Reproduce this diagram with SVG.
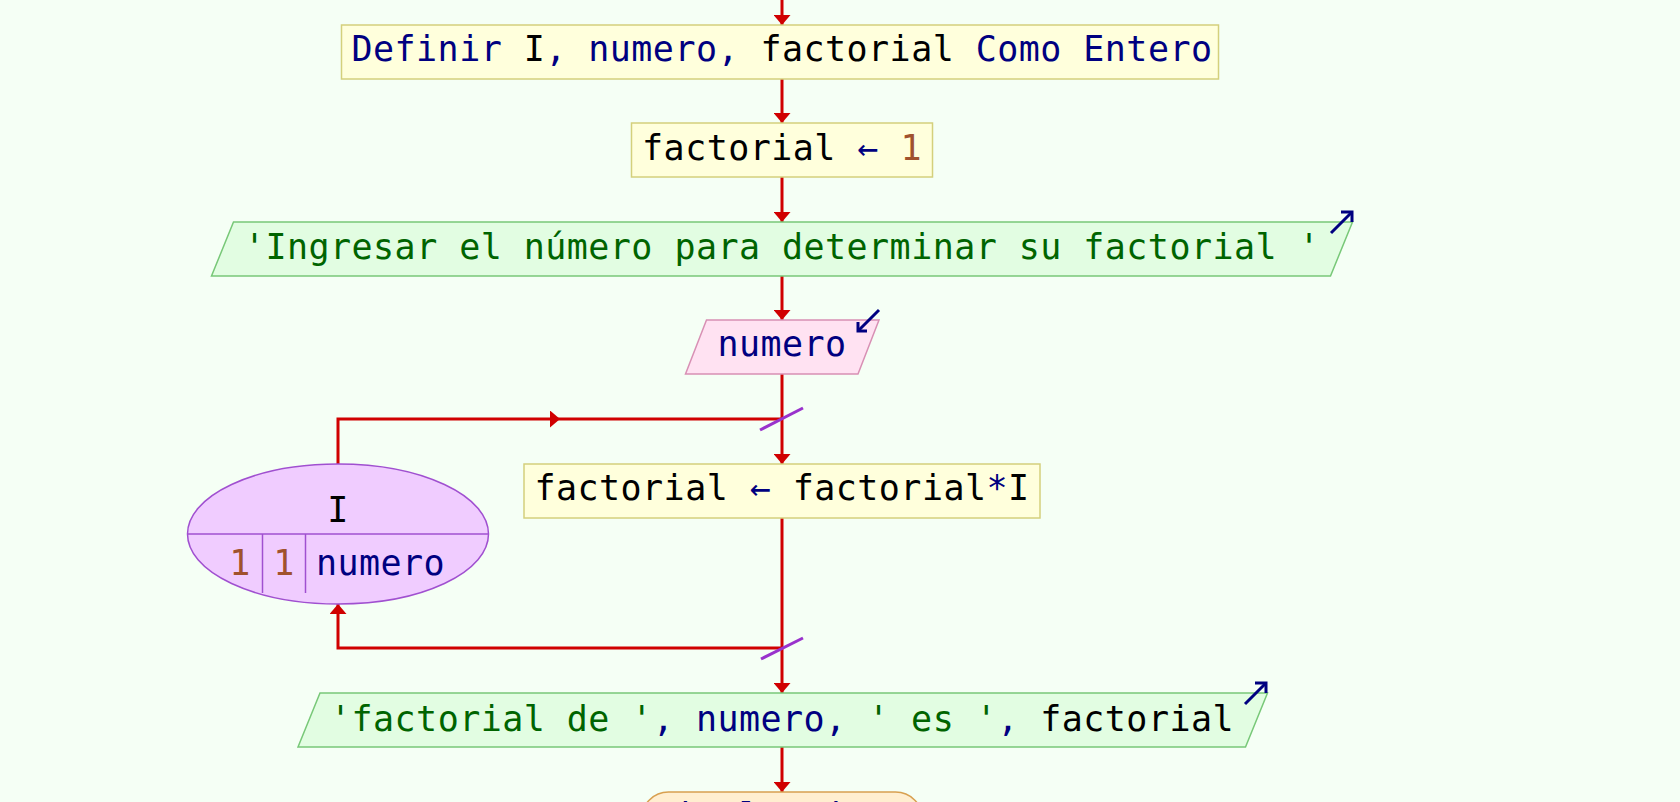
<svg xmlns="http://www.w3.org/2000/svg" width="1680" height="802" viewBox="0 0 1680 802">
<style>
text{font-family:"DejaVu Sans Mono","Liberation Mono",monospace;font-size:35px;letter-spacing:0.45px;fill:#000}
.kw{fill:#000080}
.str{fill:#006400}
.num{fill:#a0522d}
.proc{fill:#ffffdc;stroke:#d4d07c;stroke-width:1.5}
.out{fill:#e2fde2;stroke:#78c878;stroke-width:1.5}
.inp{fill:#ffe2f2;stroke:#d890b4;stroke-width:1.5}
.loop{fill:#f0ccff;stroke:#a050d0;stroke-width:1.5}
.term{fill:#ffeed0;stroke:#d8a050;stroke-width:1.5}
.edge{fill:none;stroke:#d00000;stroke-width:3}
.slash{stroke:#9932cc;stroke-width:3}
.icon{fill:none;stroke:#000080;stroke-width:3}
</style>
<defs>
<marker id="arr" viewBox="0 0 10 17" refX="10" refY="8.5" markerWidth="10" markerHeight="17" markerUnits="userSpaceOnUse" orient="auto">
<path d="M0,0 L10,8.5 L0,17 z" fill="#d00000"/>
</marker>
</defs>
<rect width="1680" height="802" fill="#f5fff5"/>
<g id="connectors">
<path class="edge" d="M782,0 V25" marker-end="url(#arr)"/>
<path class="edge" d="M782,79 V123" marker-end="url(#arr)"/>
<path class="edge" d="M782,177 V222" marker-end="url(#arr)"/>
<path class="edge" d="M782,276 V320" marker-end="url(#arr)"/>
<path class="edge" d="M782,374 V464" marker-end="url(#arr)"/>
<path class="edge" d="M338,464 V419 H560" marker-end="url(#arr)"/>
<path class="edge" d="M560,419 H782"/>
<path class="edge" d="M782,518 V693" marker-end="url(#arr)"/>
<path class="edge" d="M782,648 H338 V604" marker-end="url(#arr)"/>
<path class="edge" d="M782,747 V792" marker-end="url(#arr)"/>
<line class="slash" x1="760" y1="430" x2="803" y2="408"/>
<line class="slash" x1="761" y1="659" x2="803" y2="638"/>
</g>
<g id="n_definir">
<rect class="proc" x="341.5" y="25" width="877" height="54"/>
<text x="782" y="61" text-anchor="middle"><tspan class="kw">Definir</tspan> I<tspan class="kw">,</tspan> <tspan class="kw">numero,</tspan> factorial <tspan class="kw">Como Entero</tspan></text>
</g>
<g id="n_asig1">
<rect class="proc" x="631.5" y="123" width="301" height="54"/>
<text x="782" y="160" text-anchor="middle">factorial <tspan class="kw">←</tspan> <tspan class="num">1</tspan></text>
</g>
<g id="n_escribir1">
<polygon class="out" points="233.5,222 1352.5,222 1330.5,276 211.5,276"/>
<text class="str" x="782" y="259" text-anchor="middle">'Ingresar el número para determinar su factorial '</text>
<polyline class="icon" points="1331,233 1352,212"/>
<polyline class="icon" points="1341,212 1352,212 1352,222"/>
</g>
<g id="n_leer">
<polygon class="inp" points="706.5,320 879,320 858,374 685.5,374"/>
<text class="kw" x="782" y="356" text-anchor="middle">numero</text>
<polyline class="icon" points="879,310 858,331"/>
<polyline class="icon" points="858,322 858,331 867,331"/>
</g>
<g id="n_para">
<ellipse class="loop" cx="338" cy="534" rx="150.5" ry="70"/>
<line x1="187.5" y1="534" x2="488.5" y2="534" stroke="#a050d0" stroke-width="1.5"/>
<line x1="262.5" y1="534" x2="262.5" y2="593" stroke="#a050d0" stroke-width="1.5"/>
<line x1="305.5" y1="534" x2="305.5" y2="593" stroke="#a050d0" stroke-width="1.5"/>
<text x="338" y="522" text-anchor="middle">I</text>
<text class="num" x="240" y="575" text-anchor="middle">1</text>
<text class="num" x="284" y="575" text-anchor="middle">1</text>
<text class="kw" x="316" y="575">numero</text>
</g>
<g id="n_asig2">
<rect class="proc" x="524" y="464" width="516" height="54"/>
<text x="782" y="500" text-anchor="middle">factorial <tspan class="kw">←</tspan> factorial<tspan class="kw">*</tspan>I</text>
</g>
<g id="n_escribir2">
<polygon class="out" points="320,693 1267.5,693 1245.5,747 298,747"/>
<text x="782" y="731" text-anchor="middle"><tspan class="str">'factorial de '</tspan><tspan class="kw">, numero, </tspan><tspan class="str">' es '</tspan><tspan class="kw">,</tspan> factorial</text>
<polyline class="icon" points="1245,704 1266,683"/>
<polyline class="icon" points="1255,683 1266,683 1266,693"/>
</g>
<g id="n_fin">
<rect class="term" x="641.5" y="792" width="281" height="54" rx="27" ry="27"/>
<text class="kw" x="782" y="828" text-anchor="middle">FinAlgoritmo</text>
</g>
</svg>
